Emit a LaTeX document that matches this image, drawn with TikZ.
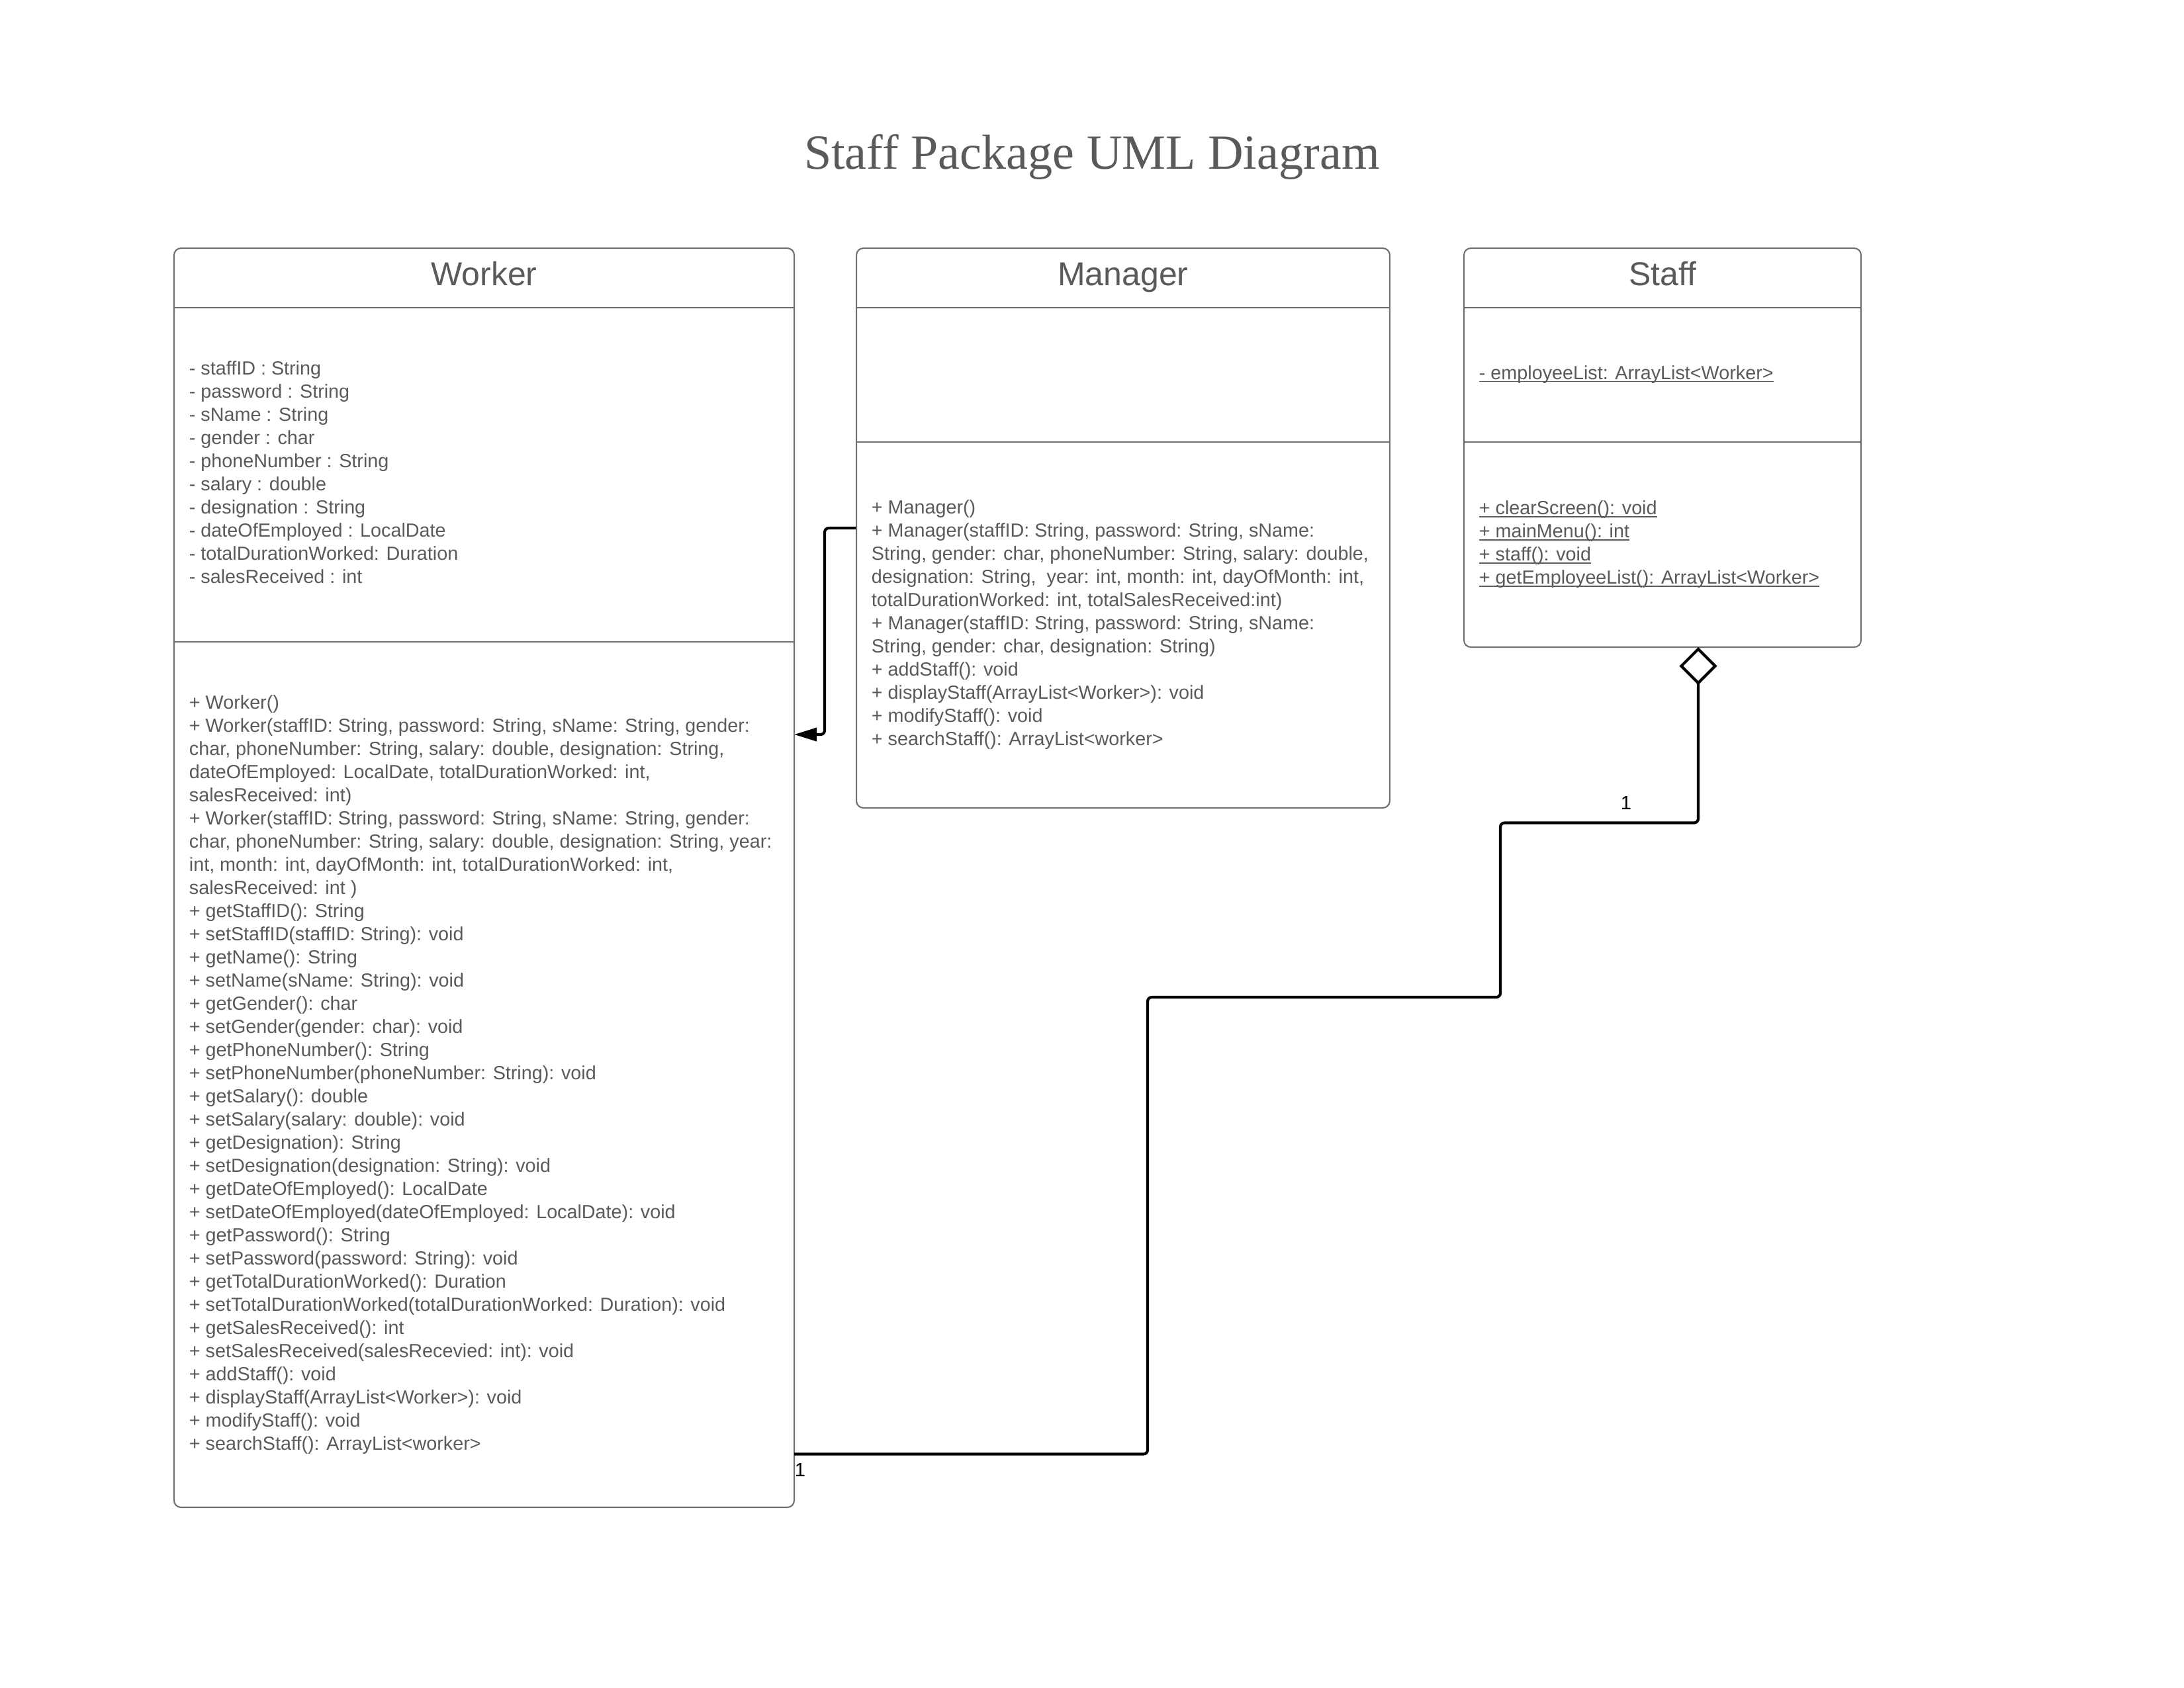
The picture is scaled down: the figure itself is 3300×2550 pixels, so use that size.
\documentclass[tikz,border=0pt]{standalone}
\usepackage{fontspec}
\setmainfont{Liberation Serif}
\setsansfont{Liberation Sans}
\usetikzlibrary{arrows.meta}
\definecolor{umltext}{RGB}{90,90,90}
\definecolor{umlline}{RGB}{110,110,110}
% underline that sits close to the baseline
\newcommand\undertext[1]{\setbox0\hbox{#1}\rlap{\rule[-0.9pt]{\wd0}{0.35pt}}\box0}
\tikzset{
  classbox/.style={draw=umlline, line width=0.5pt, rounded corners=2.5pt, inner sep=0pt},
  classname/.style={font=\sffamily\fontsize{12}{14}\selectfont, text=umltext, anchor=base},
  members/.style={font=\sffamily\fontsize{6.9}{8.4}\selectfont, text=umltext, align=left, anchor=west, inner xsep=5.3pt, inner ysep=0pt},
  divider/.style={draw=umlline, line width=0.5pt},
  link/.style={draw=black, line width=1pt, rounded corners=1.5pt},
  mult/.style={font=\sffamily\fontsize{7}{8.4}\selectfont, text=black, inner sep=0pt}
}
\begin{document}
\begin{tikzpicture}[x=0.24pt,y=-0.24pt]
\useasboundingbox (0,0) rectangle (3300,2550);

% Title
\node[font=\fontsize{17.8}{22}\selectfont, text=umltext] (title) at (1650,237) {Staff Package UML Diagram};

% Draw the class boxes
\node[classbox, minimum width=224.9pt, minimum height=456.7pt] (worker) at (731.5,1326.5) {};
\node[classbox, minimum width=193.4pt, minimum height=203pt] (manager) at (1697,798) {};
\node[classbox, minimum width=144pt, minimum height=144.7pt] (staff) at (2512,676.5) {};

% Draw the compartment lines
\draw[divider] (263,465) -- (1200,465);
\draw[divider] (263,970) -- (1200,970);
\draw[divider] (1294,465) -- (2100,465);
\draw[divider] (1294,668) -- (2100,668);
\draw[divider] (2212,465) -- (2812,465);
\draw[divider] (2212,668) -- (2812,668);

% Class names
\node[classname] (workername) at (731.5,431) {Worker};
\node[classname] (managername) at (1697,431) {Manager};
\node[classname] (staffname) at (2512,431) {Staff};

% Worker
\node[members] (workerattr) at (263,713.5) {- staffID : String\\
- password : String\\
- sName : String\\
- gender : char\\
- phoneNumber : String\\
- salary : double\\
- designation : String\\
- dateOfEmployed : LocalDate\\
- totalDurationWorked: Duration\\
- salesReceived : int};
\node[members] (workerops) at (263,1624) {+ Worker()\\
+ Worker(staffID: String, password: String, sName: String, gender:\\
char, phoneNumber: String, salary: double, designation: String,\\
dateOfEmployed: LocalDate, totalDurationWorked: int,\\
salesReceived: int)\\
+ Worker(staffID: String, password: String, sName: String, gender:\\
char, phoneNumber: String, salary: double, designation: String, year:\\
int, month: int, dayOfMonth: int, totalDurationWorked: int,\\
salesReceived: int )\\
+ getStaffID(): String\\
+ setStaffID(staffID: String): void\\
+ getName(): String\\
+ setName(sName: String): void\\
+ getGender(): char\\
+ setGender(gender: char): void\\
+ getPhoneNumber(): String\\
+ setPhoneNumber(phoneNumber: String): void\\
+ getSalary(): double\\
+ setSalary(salary: double): void\\
+ getDesignation): String\\
+ setDesignation(designation: String): void\\
+ getDateOfEmployed(): LocalDate\\
+ setDateOfEmployed(dateOfEmployed: LocalDate): void\\
+ getPassword(): String\\
+ setPassword(password: String): void\\
+ getTotalDurationWorked(): Duration\\
+ setTotalDurationWorked(totalDurationWorked: Duration): void\\
+ getSalesReceived(): int\\
+ setSalesReceived(salesRecevied: int): void\\
+ addStaff(): void\\
+ displayStaff(ArrayList<Worker>): void\\
+ modifyStaff(): void\\
+ searchStaff(): ArrayList<worker>};

% Manager
\node[members] (managerops) at (1294,944.5) {+ Manager()\\
+ Manager(staffID: String, password: String, sName:\\
String, gender: char, phoneNumber: String, salary: double,\\
designation: String,\ \ year: int, month: int, dayOfMonth: int,\\
totalDurationWorked: int, totalSalesReceived:int)\\
+ Manager(staffID: String, password: String, sName:\\
String, gender: char, designation: String)\\
+ addStaff(): void\\
+ displayStaff(ArrayList<Worker>): void\\
+ modifyStaff(): void\\
+ searchStaff(): ArrayList<worker>};

% Staff
\node[members] (staffattr) at (2212,566) {\undertext{- employeeList: ArrayList<Worker>}};
\node[members] (staffops) at (2212,823) {\undertext{+ clearScreen(): void}\\
\undertext{+ mainMenu(): int}\\
\undertext{+ staff(): void}\\
\undertext{+ getEmployeeList(): ArrayList<Worker>}};

% Connectors
\coordinate (workertip) at (1200,1110);
\coordinate (staffend) at (2566,978);
\coordinate (workerend) at (1200,2197.5);
\draw[link, -{Triangle[length=8.2pt,width=4.8pt]}] (manager.west) -- ++(-47,0) |- (workertip);
\draw[link, {Diamond[open,length=13.7pt,width=13.7pt]}-] (staffend) |- (2267,1243.5) |- (1734,1507) |- (workerend);

% Multiplicities
\node[mult] (staffmult) at (2457,1213) {1};
\node[mult] (workermult) at (1209,2221) {1};
\end{tikzpicture}
\end{document}
